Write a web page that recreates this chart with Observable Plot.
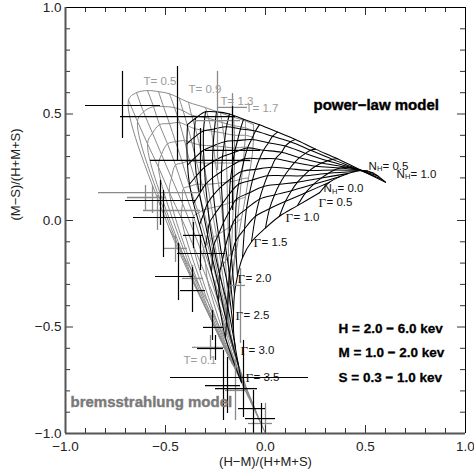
<!DOCTYPE html>
<html><head><meta charset="utf-8">
<script src="https://cdn.jsdelivr.net/npm/d3@7"></script>
<script src="https://cdn.jsdelivr.net/npm/@observablehq/plot@0.6"></script>
<style>body{margin:0;background:#fff}</style>
</head><body><div id="chart"></div>
<script>
// ---------- tick values ----------
const TICKS_MAJOR = [-1, -0.5, 0, 0.5, 1];
const TICKS_MINOR = [-0.9,-0.8,-0.7,-0.6,-0.4,-0.3,-0.2,-0.1,0.1,0.2,0.3,0.4,0.6,0.7,0.8,0.9];
const X_TITLE = "(H\u2212M)/(H+M+S)";
const Y_TITLE = "(M\u2212S)/(H+M+S)";

// ---------- power-law model grid (rows: Gamma, columns: N_H) ----------
const GAMMA = [0.5, 0.75, 1.0, 1.25, 1.5, 1.75, 2.0, 2.25, 2.5, 2.75, 3.0, 3.25, 3.5];
const NH = [0, 0.1, 0.2, 0.3, 0.4, 0.5, 0.6, 0.7, 0.8, 0.9, 1.0];
const PL_X = [
  [0.27, 0.32, 0.37, 0.41, 0.45, 0.48, 0.51, 0.54, 0.56, 0.58, 0.60],
  [0.16, 0.20, 0.24, 0.28, 0.315, 0.345, 0.375, 0.405, 0.43, 0.455, 0.48],
  [0.07, 0.10, 0.13, 0.16, 0.19, 0.22, 0.25, 0.28, 0.31, 0.335, 0.36],
  [0.0, 0.02, 0.045, 0.07, 0.095, 0.12, 0.145, 0.17, 0.20, 0.225, 0.25],
  [-0.07, -0.05, -0.03, -0.01, 0.01, 0.03, 0.05, 0.08, 0.10, 0.125, 0.15],
  [-0.115, -0.105, -0.095, -0.08, -0.065, -0.05, -0.03, -0.01, 0.015, 0.035, 0.06],
  [-0.14, -0.15, -0.15, -0.145, -0.135, -0.12, -0.105, -0.09, -0.07, -0.05, -0.03],
  [-0.155, -0.17, -0.18, -0.18, -0.18, -0.175, -0.165, -0.155, -0.14, -0.125, -0.11],
  [-0.16, -0.18, -0.20, -0.21, -0.215, -0.22, -0.22, -0.215, -0.205, -0.195, -0.18],
  [-0.16, -0.185, -0.215, -0.235, -0.25, -0.26, -0.265, -0.265, -0.262, -0.255, -0.245],
  [-0.15, -0.19, -0.23, -0.26, -0.28, -0.29, -0.30, -0.305, -0.31, -0.31, -0.30],
  [-0.135, -0.195, -0.232, -0.265, -0.29, -0.31, -0.33, -0.345, -0.353, -0.357, -0.35],
  [-0.12, -0.20, -0.235, -0.27, -0.30, -0.33, -0.36, -0.38, -0.39, -0.393, -0.39]
];
const PL_Y = [
  [0.13, 0.18, 0.205, 0.22, 0.23, 0.235, 0.232, 0.222, 0.21, 0.195, 0.18],
  [0.07, 0.13, 0.17, 0.20, 0.222, 0.237, 0.246, 0.25, 0.248, 0.243, 0.235],
  [0.02, 0.09, 0.14, 0.18, 0.21, 0.235, 0.255, 0.27, 0.28, 0.287, 0.29],
  [-0.035, 0.055, 0.12, 0.17, 0.21, 0.243, 0.272, 0.295, 0.315, 0.33, 0.335],
  [-0.10, 0.02, 0.10, 0.16, 0.21, 0.25, 0.29, 0.32, 0.35, 0.37, 0.38],
  [-0.175, -0.04, 0.055, 0.13, 0.19, 0.24, 0.29, 0.33, 0.365, 0.395, 0.415],
  [-0.26, -0.10, 0.01, 0.10, 0.17, 0.23, 0.29, 0.34, 0.38, 0.42, 0.45],
  [-0.345, -0.175, -0.055, 0.045, 0.125, 0.195, 0.26, 0.32, 0.375, 0.43, 0.475],
  [-0.43, -0.25, -0.12, -0.01, 0.08, 0.16, 0.23, 0.30, 0.37, 0.44, 0.50],
  [-0.515, -0.325, -0.185, -0.065, 0.035, 0.12, 0.20, 0.275, 0.35, 0.43, 0.51],
  [-0.60, -0.40, -0.25, -0.12, -0.01, 0.08, 0.17, 0.25, 0.33, 0.42, 0.51],
  [-0.68, -0.475, -0.315, -0.18, -0.065, 0.03, 0.125, 0.21, 0.295, 0.39, 0.48],
  [-0.76, -0.55, -0.38, -0.24, -0.12, -0.02, 0.08, 0.17, 0.26, 0.36, 0.45]
];

// ---------- bremsstrahlung model grid (rows: T, columns: N_H) ----------
const TEMP = [0.1, 0.2, 0.3, 0.4, 0.5, 0.6, 0.7, 0.8, 0.9, 1.1, 1.3, 1.5, 1.7, 1.9];
const NH_B = [0, 0.1, 0.2, 0.3, 0.4, 0.5, 0.6, 0.7, 0.8, 0.9, 1.0];
const BR_X = [
  [0.00, -0.03, -0.06, -0.085, -0.11, -0.13, -0.15, -0.165, -0.18, -0.19, -0.20],
  [-0.05, -0.10, -0.15, -0.195, -0.24, -0.285, -0.33, -0.37, -0.41, -0.445, -0.48],
  [-0.09, -0.16, -0.22, -0.29, -0.36, -0.42, -0.48, -0.535, -0.59, -0.64, -0.685],
  [-0.115, -0.18, -0.24, -0.30, -0.36, -0.415, -0.47, -0.52, -0.565, -0.61, -0.645],
  [-0.13, -0.19, -0.25, -0.31, -0.36, -0.41, -0.45, -0.49, -0.53, -0.56, -0.59],
  [-0.145, -0.195, -0.245, -0.29, -0.335, -0.38, -0.415, -0.45, -0.48, -0.51, -0.535],
  [-0.155, -0.20, -0.24, -0.275, -0.31, -0.345, -0.38, -0.405, -0.43, -0.455, -0.48],
  [-0.163, -0.198, -0.23, -0.26, -0.29, -0.318, -0.345, -0.368, -0.39, -0.412, -0.432],
  [-0.17, -0.195, -0.22, -0.245, -0.27, -0.29, -0.31, -0.33, -0.35, -0.37, -0.385],
  [-0.18, -0.19, -0.20, -0.21, -0.22, -0.235, -0.25, -0.26, -0.27, -0.285, -0.30],
  [-0.185, -0.185, -0.185, -0.187, -0.19, -0.192, -0.195, -0.20, -0.21, -0.217, -0.225],
  [-0.19, -0.18, -0.17, -0.165, -0.16, -0.157, -0.155, -0.155, -0.155, -0.157, -0.16],
  [-0.19, -0.17, -0.15, -0.14, -0.13, -0.12, -0.11, -0.105, -0.10, -0.10, -0.10],
  [-0.19, -0.165, -0.14, -0.12, -0.10, -0.085, -0.07, -0.063, -0.06, -0.06, -0.06]
];
const BR_Y = [
  [-1.00, -0.94, -0.88, -0.83, -0.78, -0.74, -0.70, -0.675, -0.65, -0.625, -0.60],
  [-0.89, -0.78, -0.67, -0.57, -0.48, -0.39, -0.31, -0.235, -0.165, -0.10, -0.04],
  [-0.80, -0.61, -0.45, -0.28, -0.12, 0.01, 0.13, 0.25, 0.36, 0.465, 0.565],
  [-0.75, -0.54, -0.37, -0.20, -0.05, 0.08, 0.20, 0.31, 0.41, 0.51, 0.60],
  [-0.70, -0.48, -0.30, -0.13, 0.02, 0.15, 0.26, 0.36, 0.45, 0.535, 0.61],
  [-0.66, -0.45, -0.275, -0.11, 0.035, 0.16, 0.27, 0.37, 0.455, 0.535, 0.605],
  [-0.63, -0.42, -0.25, -0.09, 0.05, 0.17, 0.28, 0.375, 0.46, 0.53, 0.595],
  [-0.605, -0.40, -0.235, -0.08, 0.055, 0.17, 0.275, 0.365, 0.445, 0.515, 0.575],
  [-0.58, -0.38, -0.22, -0.07, 0.06, 0.17, 0.27, 0.355, 0.43, 0.495, 0.555],
  [-0.54, -0.35, -0.19, -0.05, 0.07, 0.175, 0.27, 0.35, 0.42, 0.48, 0.53],
  [-0.51, -0.32, -0.17, -0.035, 0.08, 0.18, 0.27, 0.345, 0.41, 0.46, 0.505],
  [-0.48, -0.30, -0.15, -0.02, 0.09, 0.185, 0.27, 0.34, 0.40, 0.445, 0.485],
  [-0.46, -0.28, -0.13, -0.005, 0.10, 0.195, 0.28, 0.345, 0.40, 0.435, 0.467],
  [-0.44, -0.26, -0.11, 0.01, 0.11, 0.20, 0.28, 0.34, 0.39, 0.42, 0.45]
];

// ---------- sources with error bars ----------
// black sources
const SRC_X    = [-0.715, -0.44, -0.165, -0.325, -0.525, -0.51, -0.36, -0.325, -0.435, -0.365, -0.265, -0.25, -0.11, -0.21, -0.06, -0.02, -0.19];
const SRC_Y    = [0.540, 0.488, 0.329, 0.282, 0.094, 0.014, -0.07, -0.155, -0.263, -0.329, -0.502, -0.601, -0.737, -0.775, -0.883, -0.930, -0.789];
const SRC_XLO  = [-0.90, -0.725, -0.30, -0.575, -0.70, -0.66, -0.41, -0.44, -0.55, -0.425, -0.31, -0.34, -0.475, -0.30, -0.135, -0.10, -0.25];
const SRC_XHI  = [-0.525, -0.15, -0.025, -0.075, -0.35, -0.35, -0.31, -0.20, -0.36, -0.30, -0.21, -0.21, 0.215, -0.125, 0.0, 0.05, -0.04];
const SRC_YLO  = [0.385, 0.282, 0.047, 0.131, -0.023, -0.174, -0.131, -0.235, -0.376, -0.432, -0.563, -0.657, -0.925, -0.939, -1.0, -1.0, -0.906];
const SRC_YHI  = [0.700, 0.723, 0.535, 0.432, 0.188, 0.141, -0.009, -0.07, -0.108, -0.221, -0.423, -0.540, -0.563, -0.610, -0.798, -0.859, -0.643];
// gray sources
const GSRC_X   = [-0.24, -0.565, -0.60, -0.54, -0.45, -0.365, -0.275, -0.15, -0.125, 0.0, -0.165];
const GSRC_Y   = [0.469, 0.131, 0.108, 0.047, -0.131, -0.272, -0.596, -0.798, -0.305, -0.953, 0.531];
const GSRC_XLO = [-0.35, -0.835, -0.69, -0.61, -0.51, -0.415, -0.365, -0.20, -0.175, -0.085, -0.24];
const GSRC_XHI = [-0.125, -0.325, -0.50, -0.325, -0.39, -0.31, -0.19, -0.10, -0.10, 0.035, -0.09];
const GSRC_YLO = [0.235, 0.033, 0.047, -0.047, -0.197, -0.329, -0.657, -0.939, -0.577, -1.0, 0.376];
const GSRC_YHI = [0.70, 0.164, 0.164, 0.117, -0.07, -0.211, -0.54, -0.657, -0.225, -0.859, 0.596];

// ---------- annotations ----------
const T_LABELS   = ["T= 0.5", "T= 0.9", "T= 1.3", "T= 1.7", "T= 0.1"];
const T_LABEL_X  = [-0.61, -0.385, -0.225, -0.10, -0.41];
const T_LABEL_Y  = [0.653, 0.615, 0.559, 0.526, -0.657];
const G_LABELS   = ["0.5", "1.0", "1.5", "2.0", "2.5", "3.0", "3.5"];
const G_LABEL_X  = [0.265, 0.10, -0.06, -0.14, -0.15, -0.125, -0.10];
const G_LABEL_Y  = [0.085, 0.014, -0.103, -0.272, -0.446, -0.61, -0.737];
const N_LABELS   = ["0.5", "1.0", "0.0"];
const N_LABEL_X  = [0.515, 0.655, 0.29];
const N_LABEL_Y  = [0.256, 0.219, 0.150];
const BAND_LABELS = ["H = 2.0 \u2212 6.0 kev", "M = 1.0 \u2212 2.0 kev", "S = 0.3 \u2212 1.0 kev"];
const BAND_X = [0.365, 0.365, 0.365];
const BAND_Y = [-0.507, -0.62, -0.737];
const MODEL_LABELS = ["power\u2212law model", "bremsstrahlung model"];
const MODEL_X = [0.24, -0.975];
const MODEL_Y = [0.54, -0.854];

// ---------- build tables ----------
const plByGamma = [], plByNH = [];
GAMMA.forEach((g, i) => NH.forEach((n, j) => plByGamma.push({g, n, x: PL_X[i][j], y: PL_Y[i][j]})));
NH.forEach((n, j) => GAMMA.forEach((g, i) => plByNH.push({g, n, x: PL_X[i][j], y: PL_Y[i][j]})));
const brByT = [], brByNH = [];
TEMP.forEach((t, i) => NH_B.forEach((n, j) => brByT.push({t, n, x: BR_X[i][j], y: BR_Y[i][j]})));
NH_B.forEach((n, j) => TEMP.forEach((t, i) => brByNH.push({t, n, x: BR_X[i][j], y: BR_Y[i][j]})));

const src = SRC_X.map((x, i) => ({x, y: SRC_Y[i], xlo: SRC_XLO[i], xhi: SRC_XHI[i], ylo: SRC_YLO[i], yhi: SRC_YHI[i]}));
const gsrc = GSRC_X.map((x, i) => ({x, y: GSRC_Y[i], xlo: GSRC_XLO[i], xhi: GSRC_XHI[i], ylo: GSRC_YLO[i], yhi: GSRC_YHI[i]}));
const tLab = T_LABELS.map((s, i) => ({s, x: T_LABEL_X[i], y: T_LABEL_Y[i]}));
const gLab = G_LABELS.map((s, i) => ({s, x: G_LABEL_X[i], y: G_LABEL_Y[i]}));
const nLab = N_LABELS.map((s, i) => ({s, x: N_LABEL_X[i], y: N_LABEL_Y[i]}));
const bLab = BAND_LABELS.map((s, i) => ({s, x: BAND_X[i], y: BAND_Y[i]}));

const innerH = 475 - 7 - 42, innerW = 474 - 65 - 9;
const fmt = d => d3.format(".1f")(d);
const GRAY = "#8a8a8a";

const chart = Plot.plot({
  width: 474, height: 475,
  marginLeft: 65, marginRight: 9, marginTop: 7, marginBottom: 42,
  x: {domain: [-1, 1]},
  y: {domain: [-1, 1]},
  style: {fontFamily: "'Liberation Sans', Arial, Helvetica, sans-serif", fontSize: "13.5px", background: "#fff", color: "#222"},
  marks: [
    // model grids
    Plot.line(brByT, {x: "x", y: "y", z: "t", curve: "catmull-rom", stroke: GRAY, strokeWidth: 1}),
    Plot.line(brByNH, {x: "x", y: "y", z: "n", curve: "catmull-rom", stroke: GRAY, strokeWidth: 1}),
    Plot.line(plByGamma, {x: "x", y: "y", z: "g", curve: "catmull-rom", stroke: "#000", strokeWidth: 1.05}),
    Plot.line(plByNH, {x: "x", y: "y", z: "n", curve: "catmull-rom", stroke: "#000", strokeWidth: 1.05}),
    // error bars
    Plot.ruleY(gsrc, {y: "y", x1: "xlo", x2: "xhi", stroke: GRAY, strokeWidth: 1.3}),
    Plot.ruleX(gsrc, {x: "x", y1: "ylo", y2: "yhi", stroke: GRAY, strokeWidth: 1.3}),
    Plot.ruleY(src, {y: "y", x1: "xlo", x2: "xhi", stroke: "#000", strokeWidth: 1.2}),
    Plot.ruleX(src, {x: "x", y1: "ylo", y2: "yhi", stroke: "#000", strokeWidth: 1.2}),
    // labels
    Plot.text(tLab, {x: "x", y: "y", text: "s", textAnchor: "start", fill: "#9a9a9a", fontSize: 11.5}),
    Plot.text(gLab, {x: "x", y: "y", text: () => "\u0393", textAnchor: "start", fill: "#111", fontSize: 13, fontFamily: "'Liberation Serif', 'Times New Roman', serif"}),
    Plot.text(gLab, {x: "x", y: "y", text: d => "= " + d.s, textAnchor: "start", dx: 8, fill: "#111", fontSize: 11.5}),
    Plot.text(nLab, {x: "x", y: "y", text: () => "N", textAnchor: "start", fill: "#111", fontSize: 11.5}),
    Plot.text(nLab, {x: "x", y: "y", text: () => "H", textAnchor: "start", dx: 8.5, dy: 3, fill: "#111", fontSize: 7.5}),
    Plot.text(nLab, {x: "x", y: "y", text: d => "= " + d.s, textAnchor: "start", dx: 14, fill: "#111", fontSize: 11.5}),
    Plot.text(bLab, {x: "x", y: "y", text: "s", textAnchor: "start", fill: "#000", stroke: "#000", strokeWidth: 0.3, fontSize: 13.5, fontWeight: "bold", letterSpacing: "-0.4px"}),
    Plot.text([MODEL_LABELS[0]], {x: [MODEL_X[0]], y: [MODEL_Y[0]], text: d => d, textAnchor: "start", fill: "#000", stroke: "#000", strokeWidth: 0.4, fontSize: 15, fontWeight: "bold", letterSpacing: "-0.4px"}),
    Plot.text([MODEL_LABELS[1]], {x: [MODEL_X[1]], y: [MODEL_Y[1]], text: d => d, textAnchor: "start", fill: "#7a7a7a", stroke: "#7a7a7a", strokeWidth: 0.4, fontSize: 15, fontWeight: "bold", letterSpacing: "-0.4px"}),
    // inward ticks on all four sides
    Plot.ruleX(TICKS_MAJOR, {x: d => d, insetTop: innerH - 8, stroke: "#333"}),
    Plot.ruleX(TICKS_MINOR, {x: d => d, insetTop: innerH - 5, stroke: "#333"}),
    Plot.ruleX(TICKS_MAJOR, {x: d => d, insetBottom: innerH - 8, stroke: "#333"}),
    Plot.ruleX(TICKS_MINOR, {x: d => d, insetBottom: innerH - 5, stroke: "#333"}),
    Plot.ruleY(TICKS_MAJOR, {y: d => d, insetRight: innerW - 8, stroke: "#333"}),
    Plot.ruleY(TICKS_MINOR, {y: d => d, insetRight: innerW - 5, stroke: "#333"}),
    Plot.ruleY(TICKS_MAJOR, {y: d => d, insetLeft: innerW - 8, stroke: "#333"}),
    Plot.ruleY(TICKS_MINOR, {y: d => d, insetLeft: innerW - 5, stroke: "#333"}),
    // frame
    Plot.ruleX([1], {stroke: "#000", strokeWidth: 1}),
    Plot.ruleY([1], {stroke: "#000", strokeWidth: 1}),
    Plot.ruleX([-1], {stroke: "#555", strokeWidth: 2}),
    Plot.ruleY([-1], {stroke: "#555", strokeWidth: 2}),
    // tick labels
    Plot.axisX(TICKS_MAJOR, {tickSize: 0, tickPadding: 8, tickFormat: fmt, label: null, fontSize: 13.5}),
    Plot.axisY(TICKS_MAJOR, {tickSize: 0, tickPadding: 4, tickFormat: fmt, label: null, fontSize: 13.5}),
    // axis titles
    Plot.text([X_TITLE], {frameAnchor: "bottom", dy: 32, text: d => d, fontSize: 13, fill: "#222"}),
    Plot.text([Y_TITLE], {frameAnchor: "left", dx: -50, rotate: -90, text: d => d, fontSize: 13, fill: "#222"})
  ]
});
document.getElementById("chart").appendChild(chart);
</script></body></html>
